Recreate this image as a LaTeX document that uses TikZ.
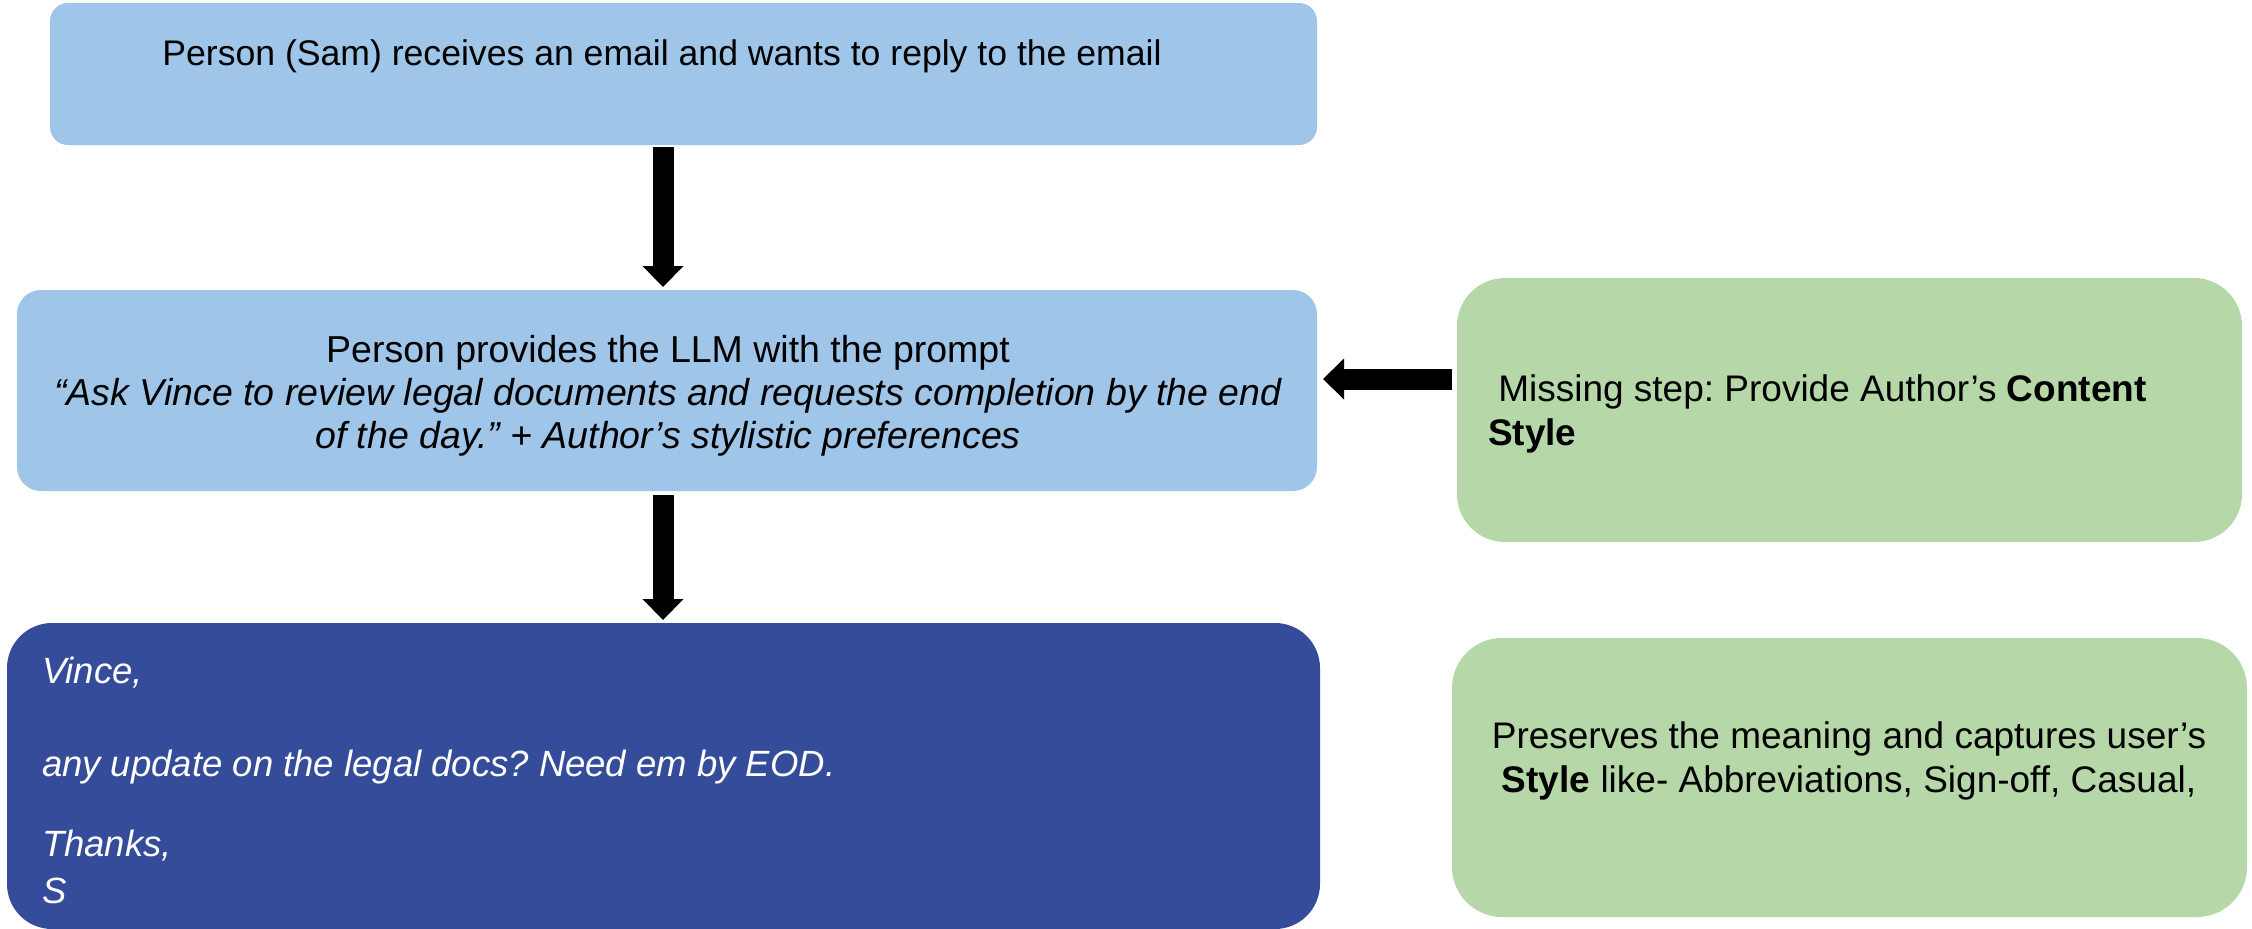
\documentclass[tikz,border=0pt]{standalone}
\usepackage{fontspec}
\setmainfont{Liberation Sans}
\usetikzlibrary{arrows.meta}
\frenchspacing

\definecolor{lightblue}{HTML}{9FC5E8}
\definecolor{softgreen}{HTML}{B6D7A8}
\definecolor{deepblue}{HTML}{354C9A}

\begin{document}
\begin{tikzpicture}[x=1pt,y=-1pt,
  panel/.style={draw=none, inner sep=0pt, outer sep=0pt},
  txt/.style={inner sep=0pt, outer sep=0pt, font=\fontsize{37}{44}\selectfont},
  blockarrow/.style={line width=21pt, draw=black,
    -{Triangle[width=41pt,length=21pt,line width=0pt]}}
]
\useasboundingbox (0,0) rectangle (2252,929);

% flow boxes on the left
\node[panel, fill=lightblue, rounded corners=18pt,
      minimum width=1267pt, minimum height=142pt] (box1) at (683.5,74) {};
\node[panel, fill=lightblue, rounded corners=24pt,
      minimum width=1300pt, minimum height=201pt] (box2) at (667,390.5) {};
\node[panel, fill=deepblue, rounded corners=45pt,
      minimum width=1313pt, minimum height=306pt] (box3) at (663.5,776) {};

% notes on the right
\node[panel, fill=softgreen, rounded corners=48pt,
      minimum width=785pt, minimum height=264pt] (note1) at (1849.5,410) {};
\node[panel, fill=softgreen, rounded corners=50pt,
      minimum width=795pt, minimum height=279pt] (note2) at (1849.5,777.5) {};

% texts
\node[txt, font=\fontsize{35.6}{43}\selectfont] (t1) at (662,56)
  {Person (Sam) receives an email and wants to reply to the email};
\node[txt, align=center, font=\fontsize{37.5}{43}\selectfont] (t2) at (668,396)
  {Person provides the LLM with the prompt\\
   \itshape “Ask Vince to review legal documents and requests completion by the end\\
   \itshape of the day.” + Author’s stylistic preferences};
\node[txt, align=left, anchor=west, text=white,
      font=\fontsize{36.5}{47}\selectfont\itshape] (t3) at (42,780)
  {Vince,\\[46pt]
   any update on the legal docs? Need em by EOD.\\[33pt]
   Thanks,\\
   S};
\node[txt, align=left, anchor=west] (t4) at (1488,414)
  {\ Missing step: Provide Author’s \textbf{Content}\\
   \textbf{Style}};
\node[txt, align=center] (t5) at (1849,761)
  {Preserves the meaning and captures user’s\\
   \textbf{Style} like- Abbreviations, Sign-off, Casual,};

% connectors
\coordinate (ax) at (663,0);
\draw[blockarrow, shorten <=2pt, shorten >=3pt] (ax |- box1.south) -- (ax |- box2.north);
\draw[blockarrow, shorten <=4pt, shorten >=3pt] (ax |- box2.south) -- (ax |- box3.north);
\coordinate (ay) at (0,379);
\draw[blockarrow, shorten <=5pt, shorten >=6pt] (note1.west |- ay) -- (box2.east |- ay);
\end{tikzpicture}
\end{document}
